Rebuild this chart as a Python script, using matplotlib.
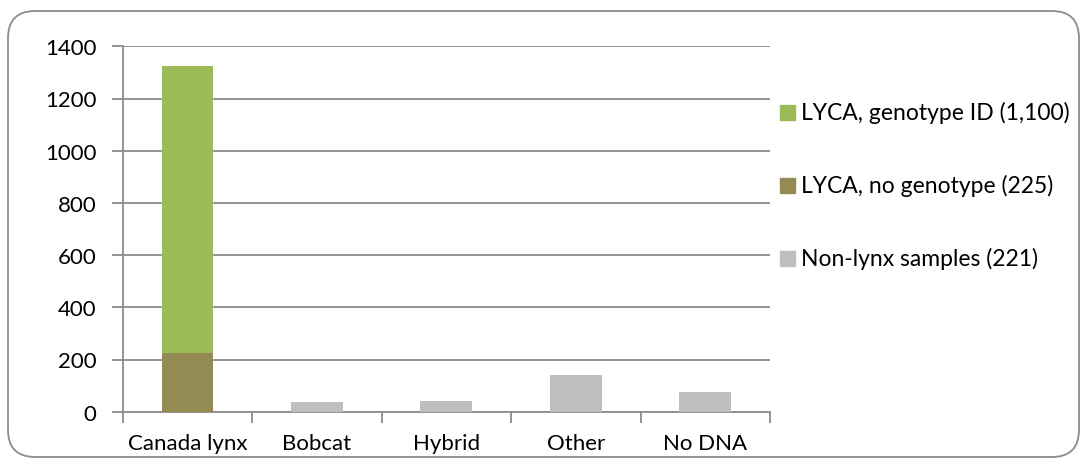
import numpy as np
import matplotlib.pyplot as plt
from matplotlib.patches import FancyBboxPatch

plt.rcParams['font.family'] = ['Lato', 'DejaVu Sans']

categories = ['Canada lynx', 'Bobcat', 'Hybrid', 'Other', 'No DNA']
lyca_genotype = [1100, 0, 0, 0, 0]
lyca_no_genotype = [225, 0, 0, 0, 0]
non_lynx = [0, 36, 42, 141, 76]

labels = ['LYCA, genotype ID (1,100)', 'LYCA, no genotype (225)', 'Non-lynx samples (221)']
colors = ['#9BBB59', '#948A54', '#BFBFBF']

fig = plt.figure(figsize=(10.87, 4.64), dpi=100)
ax = fig.add_axes([122.7 / 1087, 1 - 412.7 / 464, (770 - 122.7) / 1087, (412.7 - 47.3) / 464])

x = np.arange(len(categories))
w = 0.40
ax.bar(x, lyca_no_genotype, w, color=colors[1], zorder=3)
ax.bar(x, lyca_genotype, w, bottom=lyca_no_genotype, color=colors[0], zorder=3)
ax.bar(x, non_lynx, w, color=colors[2], zorder=3)

ax.set_xlim(-0.5, len(categories) - 0.5)
ax.set_ylim(0, 1400)
ax.set_yticks(range(0, 1401, 200))
ax.yaxis.grid(True, color='#8C8C8C', linewidth=1.3, zorder=0)

ax.set_xticks(np.arange(-0.5, len(categories), 1.0))
ax.set_xticklabels([])
ax.set_xticks(x, minor=True)
ax.set_xticklabels(categories, minor=True)
ax.tick_params(axis='x', which='minor', length=0, pad=15, labelsize=16)
ax.tick_params(axis='x', which='major', length=8, width=1.3, color='#8C8C8C')
ax.tick_params(axis='y', length=8, width=1.3, color='#8C8C8C', labelsize=16, pad=11)

for side in ['top', 'right']:
    ax.spines[side].set_visible(False)
for side in ['left', 'bottom']:
    ax.spines[side].set_color('#8C8C8C')
    ax.spines[side].set_linewidth(1.3)

# legend entries placed manually on the right
legend_y = [113, 186, 259]
for lab, col, yy in zip(labels, colors, legend_y):
    fig.patches.append(plt.Rectangle((780 / 1087, 1 - (yy + 7.5) / 464), 15 / 1087, 15 / 464,
                                     transform=fig.transFigure, color=col))
    fig.text(801 / 1087, 1 - yy / 464, lab, fontsize=16.5, va='center', ha='left')

border = FancyBboxPatch((8 / 1087, 6 / 464), 1071 / 1087, 446 / 464,
                        boxstyle='round,pad=0,rounding_size=0.025',
                        transform=fig.transFigure, fill=False,
                        edgecolor='#8C8C8C', linewidth=1.3, mutation_aspect=1087 / 464)
fig.patches.append(border)

fig.savefig('out.png', dpi=100)
